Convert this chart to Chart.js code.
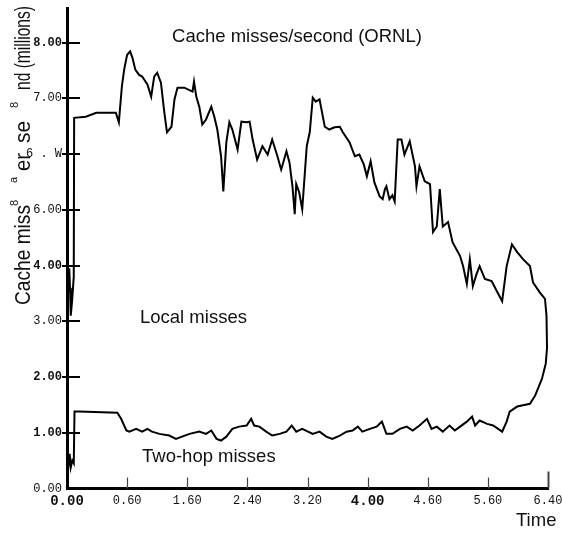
<!DOCTYPE html>
<html>
<head>
<meta charset="utf-8">
<script src="https://cdn.jsdelivr.net/npm/chart.js@4"></script>
<style>
  html, body { margin: 0; background: #fff; }
  #wrap { width: 562px; height: 533px; }
</style>
</head>
<body>
<div id="wrap"><canvas id="missChart"></canvas></div>
<script>
// time axis (x) and miss rate in millions per second (y)
const localTime = [0, 0.003, 0.01, 0.02, 0.03, 0.04, 0.05, 0.07, 0.09, 0.095,
  0.25, 0.39, 0.65, 0.69, 0.73, 0.76, 0.80, 0.84, 0.87, 0.91,
  0.96, 1.00, 1.07, 1.12, 1.16, 1.20, 1.25, 1.29, 1.33, 1.39,
  1.43, 1.47, 1.56, 1.67, 1.69, 1.72, 1.76, 1.80, 1.85, 1.92,
  1.96, 2.00, 2.05, 2.08, 2.12, 2.16, 2.20, 2.27, 2.32, 2.39,
  2.43, 2.47, 2.53, 2.60, 2.67, 2.73, 2.80, 2.85, 2.92, 2.96,
  3.00, 3.03, 3.05, 3.09, 3.13, 3.19, 3.23, 3.27, 3.31, 3.36,
  3.43, 3.49, 3.56, 3.63, 3.67, 3.76, 3.83, 3.89, 3.95, 3.99,
  4.04, 4.09, 4.16, 4.20, 4.23, 4.25, 4.29, 4.33, 4.36, 4.40,
  4.45, 4.49, 4.56, 4.63, 4.65, 4.69, 4.76, 4.83, 4.87, 4.92,
  4.96, 5.00, 5.07, 5.13, 5.23, 5.27, 5.32, 5.36, 5.40, 5.45,
  5.49, 5.56, 5.65, 5.72, 5.79, 5.85, 5.92, 5.99, 6.07, 6.16,
  6.20, 6.29, 6.36, 6.38, 6.387];
const localMisses = [0.5, 3.0, 3.9, 3.55, 3.95, 3.6, 3.1, 3.4, 3.8, 6.65,
  6.67, 6.74, 6.74, 6.57, 7.21, 7.51, 7.78, 7.84, 7.73, 7.51,
  7.42, 7.39, 7.25, 7.03, 7.39, 7.46, 7.28, 6.80, 6.39, 6.49,
  6.98, 7.19, 7.19, 7.12, 7.30, 7.03, 6.85, 6.53, 6.62, 6.85,
  6.67, 6.44, 5.96, 5.33, 6.21, 6.57, 6.44, 6.08, 6.58, 6.57,
  6.58, 6.26, 5.90, 6.14, 5.99, 6.26, 5.96, 5.72, 6.05, 5.85,
  5.42, 4.92, 5.46, 5.31, 5.01, 6.14, 6.39, 7.01, 6.94, 6.98,
  6.49, 6.44, 6.48, 6.49, 6.39, 6.21, 5.96, 5.99, 5.81, 5.60,
  5.87, 5.49, 5.24, 5.19, 5.37, 5.42, 5.19, 5.26, 5.15, 6.26,
  6.26, 5.99, 6.23, 5.78, 5.42, 5.78, 5.51, 5.46, 4.60, 4.70,
  5.37, 4.70, 4.78, 4.42, 4.17, 3.99, 3.67, 4.11, 3.63, 3.85,
  3.99, 3.76, 3.72, 3.54, 3.36, 3.99, 4.38, 4.24, 4.11, 3.99,
  3.70, 3.52, 3.40, 3.10, 2.52];

const hopTime = [0, 0.003, 0.02, 0.035, 0.05, 0.07, 0.09, 0.10, 0.16, 0.67,
  0.72, 0.79, 0.83, 0.92, 1.00, 1.07, 1.13, 1.23, 1.36, 1.45,
  1.53, 1.63, 1.76, 1.85, 1.92, 1.99, 2.05, 2.12, 2.20, 2.29,
  2.39, 2.45, 2.49, 2.56, 2.65, 2.73, 2.83, 2.92, 2.99, 3.05,
  3.13, 3.27, 3.36, 3.45, 3.53, 3.63, 3.72, 3.80, 3.87, 3.93,
  4.03, 4.12, 4.19, 4.25, 4.33, 4.43, 4.52, 4.60, 4.69, 4.79,
  4.85, 4.92, 5.00, 5.09, 5.16, 5.23, 5.32, 5.39, 5.43, 5.49,
  5.59, 5.67, 5.79, 5.85, 5.89, 5.99, 6.16, 6.23, 6.32, 6.37,
  6.387];
const hopMisses = [0, 0.55, 0.42, 0.62, 0.38, 0.50, 0.45, 1.38, 1.38, 1.36,
  1.25, 1.04, 1.02, 1.07, 1.02, 1.07, 1.02, 0.98, 0.95, 0.89,
  0.93, 0.98, 1.02, 0.98, 1.04, 0.89, 0.86, 0.93, 1.07, 1.11,
  1.13, 1.25, 1.13, 1.11, 1.02, 0.95, 0.98, 1.02, 1.13, 1.02,
  1.07, 0.98, 1.02, 0.93, 0.89, 0.95, 1.02, 1.04, 1.11, 1.02,
  1.07, 1.11, 1.20, 0.98, 0.98, 1.07, 1.11, 1.04, 1.13, 1.25,
  1.07, 1.11, 1.02, 1.13, 1.04, 1.11, 1.20, 1.29, 1.13, 1.22,
  1.16, 1.13, 1.02, 1.20, 1.38, 1.47, 1.52, 1.67, 1.97, 2.24,
  2.52];

const xTickValues = [0, 0.8, 1.6, 2.4, 3.2, 4.0, 4.8, 5.6, 6.4];
const xTickLabels = ['0.00', '0.60', '1.60', '2.40', '3.20', '4.00', '4.60', '5.60', '6.40'];
const yTickValues = [0, 1, 2, 3, 4, 5, 6, 7, 8];
const yTickLabels = ['0.00', '1.00', '2.00', '3.00', '4.00', '6.00', '6 . W', '7.00', '8.00'];
const xBoldTicks = [0, 5];
const yBoldTicks = [1, 2, 4, 8];

const toPoints = (xs, ys) => xs.map((x, i) => ({ x: x, y: ys[i] }));

// short tick marks that sit across / inside the axes
const innerTicks = {
  id: 'innerTicks',
  afterDatasetsDraw(chart) {
    const { ctx, chartArea, scales } = chart;
    ctx.save();
    ctx.strokeStyle = '#000';
    ctx.lineWidth = 2;
    scales.y.ticks.forEach(t => {
      if (t.value === 0) return;
      const y = Math.round(scales.y.getPixelForValue(t.value));
      ctx.beginPath();
      ctx.moveTo(chartArea.left - 5, y);
      ctx.lineTo(chartArea.left + 13, y);
      ctx.stroke();
    });
    ctx.strokeStyle = '#444';
    scales.x.ticks.forEach((t, i) => {
      if (i === 0) return;
      const x = Math.round(scales.x.getPixelForValue(t.value)) + 0.5;
      const last = i === scales.x.ticks.length - 1;
      ctx.lineWidth = last ? 2 : 1.2;
      ctx.beginPath();
      ctx.moveTo(x, chartArea.bottom);
      ctx.lineTo(x, chartArea.bottom - (last ? 17 : 11));
      ctx.stroke();
    });
    ctx.restore();
  }
};

// title, series names and axis names
const missLabels = {
  id: 'missLabels',
  afterDraw(chart) {
    const ctx = chart.ctx;
    const sans = '"Liberation Sans", Arial, sans-serif';
    ctx.save();
    ctx.fillStyle = '#111';
    ctx.font = '18.5px ' + sans;
    ctx.textBaseline = 'middle';
    ctx.textAlign = 'center';
    ctx.fillText('Cache misses/second (ORNL)', 297, 37);
    ctx.textAlign = 'left';
    ctx.fillText('Local misses', 140, 318);
    ctx.fillText('Two-hop misses', 142, 457);
    ctx.fillText('Time', 516, 521);

    // vertical axis name, read bottom to top, a little squeezed along its length
    ctx.translate(30, 0);
    ctx.rotate(-Math.PI / 2);
    ctx.textBaseline = 'alphabetic';
    ctx.font = '22px ' + sans;
    ctx.fillText('Cache miss', -305, 0, 100);
    ctx.fillText('er', -171, 0, 18);
    ctx.fillText('se', -143, 0, 22);
    ctx.fillText('nd (millions)', -90, 0, 84);
    ctx.font = '11px ' + sans;
    ctx.fillText('8', -206, -12);
    ctx.fillText('8', -108, -12);
    ctx.fillText('a', -183, -13);
    ctx.restore();
  }
};

const mono = '"Liberation Mono", "DejaVu Sans Mono", monospace';

new Chart(document.getElementById('missChart'), {
  type: 'line',
  data: {
    datasets: [
      {
        label: 'Local misses',
        data: toPoints(localTime, localMisses),
        borderColor: '#000',
        borderWidth: 2,
        pointRadius: 0,
        tension: 0
      },
      {
        label: 'Two-hop misses',
        data: toPoints(hopTime, hopMisses),
        borderColor: '#000',
        borderWidth: 2,
        pointRadius: 0,
        tension: 0
      }
    ]
  },
  options: {
    responsive: true,
    maintainAspectRatio: false,
    animation: false,
    layout: { padding: { left: 0, right: 14, top: 8, bottom: 0 } },
    plugins: {
      legend: { display: false },
      tooltip: { enabled: false }
    },
    scales: {
      x: {
        type: 'linear',
        min: 0,
        max: 6.4,
        afterBuildTicks: axis => { axis.ticks = xTickValues.map(v => ({ value: v })); },
        afterFit: axis => { axis.height = 44.5; axis.paddingLeft = 0; axis.paddingRight = 0; },
        grid: { display: false, drawTicks: false },
        border: { display: true, color: '#000', width: 3 },
        ticks: {
          color: '#111',
          padding: 5,
          maxRotation: 0,
          autoSkip: false,
          font: c => ({ family: mono, size: xBoldTicks.includes(c.index) ? 14 : 12,
                        weight: xBoldTicks.includes(c.index) ? 'bold' : 'normal' }),
          callback: (value, index) => xTickLabels[index]
        }
      },
      y: {
        min: 0,
        max: 8.62,
        afterBuildTicks: axis => { axis.ticks = yTickValues.map(v => ({ value: v })); },
        afterFit: axis => { axis.width = 67; axis.paddingTop = 0; axis.paddingBottom = 0; },
        grid: { display: false, drawTicks: false },
        border: { display: true, color: '#000', width: 3 },
        ticks: {
          color: '#111',
          padding: 5,
          autoSkip: false,
          font: c => ({ family: mono, size: 12,
                        weight: yBoldTicks.includes(c.index) ? 'bold' : 'normal' }),
          callback: (value, index) => yTickLabels[index]
        }
      }
    }
  },
  plugins: [innerTicks, missLabels]
});
</script>
</body>
</html>
